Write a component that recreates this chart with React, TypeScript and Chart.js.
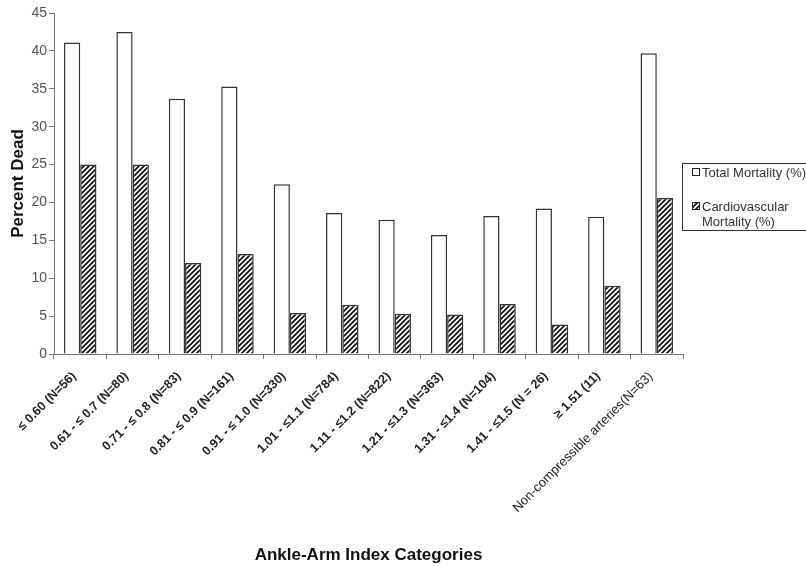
import React, { useEffect, useRef } from "react";
import { Chart, registerables } from "chart.js";

Chart.register(...registerables);

const categories: string[] = [
  "≤ 0.60 (N=56)",
  "0.61 - ≤ 0.7 (N=80)",
  "0.71 - ≤ 0.8 (N=83)",
  "0.81 - ≤ 0.9 (N=161)",
  "0.91 - ≤ 1.0 (N=330)",
  "1.01 - ≤1.1 (N=784)",
  "1.11 - ≤1.2 (N=822)",
  "1.21 - ≤1.3 (N=363)",
  "1.31 - ≤1.4 (N=104)",
  "1.41 - ≤1.5 (N = 26)",
  "≥ 1.51 (11)",
  "Non-compressible arteries(N=63)",
];

const totalMortality: number[] = [41.1, 42.5, 33.7, 35.3, 22.4, 18.6, 17.7, 15.7, 18.2, 19.2, 18.1, 39.7];
const cvMortality: number[] = [25.0, 25.0, 12.0, 13.2, 5.4, 6.5, 5.3, 5.2, 6.6, 3.9, 9.0, 20.6];

const seriesNames: string[] = ["Total Mortality (%)", "Cardiovascular Mortality (%)"];
const yTicks: number[] = [0, 5, 10, 15, 20, 25, 30, 35, 40, 45];

const FONT = "'Liberation Sans', Arial, sans-serif";

function makeHatch(): CanvasPattern | string {
  const c = document.createElement("canvas");
  const s = 5;
  c.width = s;
  c.height = s;
  const g = c.getContext("2d");
  if (!g) return "#555";
  g.fillStyle = "#fff";
  g.fillRect(0, 0, s, s);
  g.strokeStyle = "#111";
  g.lineWidth = 1.8;
  g.beginPath();
  g.moveTo(-1, s + 1);
  g.lineTo(s + 1, -1);
  g.moveTo(-1, 1);
  g.lineTo(1, -1);
  g.moveTo(s - 1, s + 1);
  g.lineTo(s + 1, s - 1);
  g.stroke();
  const p = g.createPattern(c, "repeat");
  return p || "#555";
}

export default function App() {
  const ref = useRef<HTMLCanvasElement | null>(null);

  useEffect(() => {
    document.body.style.margin = "0";
    const canvas = ref.current;
    if (!canvas) return;
    const hatch = makeHatch();

    const legendPlugin = {
      id: "boxLegend",
      afterDraw(chart: any) {
        const ctx = chart.ctx as CanvasRenderingContext2D;
        const area = chart.chartArea;
        const x = area.right - 1;
        const y = 163;
        ctx.save();
        ctx.strokeStyle = "#333";
        ctx.lineWidth = 1;
        ctx.strokeRect(x + 0.5, y + 0.5, 140, 67);
        ctx.font = `13px ${FONT}`;
        ctx.textBaseline = "middle";
        ctx.fillStyle = "#fff";
        ctx.fillRect(x + 10.5, y + 5.5, 7, 7);
        ctx.strokeStyle = "#222";
        ctx.strokeRect(x + 10.5, y + 5.5, 7, 7);
        ctx.fillStyle = "#333";
        ctx.fillText(seriesNames[0], x + 20, y + 10);
        ctx.fillStyle = hatch as any;
        ctx.fillRect(x + 10.5, y + 39.5, 7, 7);
        ctx.strokeRect(x + 10.5, y + 39.5, 7, 7);
        ctx.fillStyle = "#333";
        ctx.fillText("Cardiovascular", x + 20, y + 44);
        ctx.fillText("Mortality (%)", x + 20, y + 59);
        ctx.restore();
      },
    };

    const chart = new Chart(canvas, {
      type: "bar",
      data: {
        labels: categories,
        datasets: [
          {
            label: seriesNames[0],
            data: totalMortality,
            backgroundColor: "#ffffff",
            borderColor: "#333333",
            borderWidth: 1.5,
            categoryPercentage: 0.62,
            barPercentage: 1.0,
          },
          {
            label: seriesNames[1],
            data: cvMortality,
            backgroundColor: hatch as any,
            borderColor: "#333333",
            borderWidth: 1.5,
            categoryPercentage: 0.62,
            barPercentage: 1.0,
          },
        ],
      },
      options: {
        animation: false,
        responsive: false,
        maintainAspectRatio: false,
        layout: { padding: { left: 0, right: 123, top: 13, bottom: 0 } },
        plugins: {
          legend: { display: false },
          tooltip: { enabled: false },
        },
        scales: {
          x: {
            afterFit: (axis: any) => {
              axis.height = 566 - 354;
            },
            border: { display: true, color: "#777", width: 1 },
            grid: {
              display: true,
              drawOnChartArea: false,
              drawTicks: true,
              tickLength: 5,
              color: "#777",
              offset: true,
            },
            ticks: {
              autoSkip: false,
              maxRotation: 45,
              minRotation: 45,
              color: "#222",
              padding: 10,
              labelOffset: -6,
              font: (ctx: any) =>
                ctx.index === categories.length - 1
                  ? { family: FONT, size: 13, weight: "normal" }
                  : { family: FONT, size: 12.5, weight: "bold" },
            },
            title: {
              display: true,
              text: "Ankle-Arm Index Categories",
              color: "#111",
              font: { family: FONT, size: 17, weight: "bold" },
              padding: { top: 4, bottom: 0 },
            },
          },
          y: {
            min: 0,
            max: 45,
            afterBuildTicks: (axis: any) => {
              axis.ticks = yTicks.map((v) => ({ value: v }));
            },
            afterFit: (axis: any) => {
              axis.width = 54;
            },
            border: { display: true, color: "#777", width: 1 },
            grid: {
              display: true,
              drawOnChartArea: false,
              drawTicks: true,
              tickLength: 5,
              color: "#777",
            },
            ticks: {
              color: "#555",
              padding: 2,
              font: { family: FONT, size: 14 },
            },
            title: {
              display: true,
              text: "Percent Dead",
              color: "#111",
              font: { family: FONT, size: 17, weight: "bold" },
              padding: { top: 8.5, bottom: 4 },
            },
          },
        },
      },
      plugins: [legendPlugin],
    });

    return () => {
      chart.destroy();
    };
  }, []);

  return (
    <div style={{ width: 806, height: 566, background: "#fff" }}>
      <canvas ref={ref} width={806} height={566} style={{ display: "block" }} />
    </div>
  );
}
